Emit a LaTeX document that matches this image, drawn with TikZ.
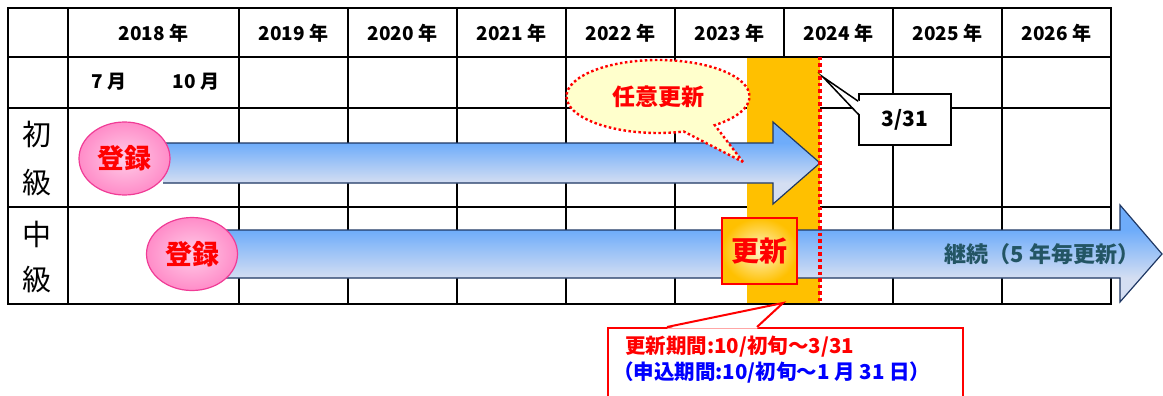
\documentclass[tikz,border=0pt]{standalone}
\usepackage{fontspec}
\setmainfont{Noto Sans CJK JP}
\usetikzlibrary{shapes.geometric,shapes.callouts,calc}
\definecolor{gold}{RGB}{255,192,0}
\definecolor{arrtop}{RGB}{110,172,250}
\definecolor{arrbot}{RGB}{212,222,242}
\definecolor{arredge}{RGB}{31,56,100}
\definecolor{pinkin}{RGB}{255,205,232}
\definecolor{pinkout}{RGB}{255,140,200}
\definecolor{pinkedge}{RGB}{240,60,150}
\definecolor{tealtext}{RGB}{35,85,100}
\definecolor{calloutfill}{RGB}{255,255,204}
\definecolor{glow}{RGB}{255,245,200}
\begin{document}
\begin{tikzpicture}[x=1pt,y=-1pt,
  gridline/.style={line width=1.6pt, black},
  hdr/.style={font=\bfseries\fontsize{19}{21}\selectfont, inner sep=0},
  side/.style={font=\fontsize{29}{30}\selectfont, inner sep=0},
  arrout/.style={draw=arredge, line width=1.2pt},
  reg/.style={ellipse, draw=pinkedge, line width=1.2pt, inner color=pinkin, outer color=pinkout,
    minimum width=91, minimum height=73, inner sep=0, text=red, font=\bfseries\fontsize{27}{28}\selectfont},
  reddots/.style={red, line width=3.5pt, dash pattern=on 3.5pt off 3pt},
  renewbox/.style={draw=red, line width=1.5pt, inner color=glow, outer color=gold,
    minimum width=75, minimum height=66, inner sep=0, text=red, font=\bfseries\fontsize{28}{30}\selectfont},
  note/.style={font=\bfseries\fontsize{20.5}{22}\selectfont, inner sep=0, anchor=west}
]
\useasboundingbox (0,0) rectangle (1163,396);
% table grid
\draw[gridline] (8,8) rectangle (1111,304);
\foreach \yy in {57,108,207} \draw[gridline] (8,\yy) -- (1111,\yy);
\foreach \xx in {68,239,348,457,566,675,784,893,1002} \draw[gridline] (\xx,8) -- (\xx,304);
% header
\foreach \yr/\cx in {2018/153.5,2019/293.5,2020/402.5,2021/511.5,2022/620.5,2023/729.5,2024/838.5,2025/947.5,2026/1056.5}
  \node[hdr] (y\yr) at (\cx,33) {\yr\ 年};
\node[hdr] (m7) at (109,82) {7 月};
\node[hdr] (m10) at (196,82) {10 月};
\node[side] (s1) at (37.5,134) {初};
\node[side] (s2) at (37.5,182.5) {級};
\node[side] (s3) at (37.5,234) {中};
\node[side] (s4) at (37.5,280) {級};
% gold band
\fill[gold] (747,58) rectangle (820,303.2);
% arrow 1
\begin{scope}
  \clip (163,143) -- (773,143) -- (773,122) -- (820,163) -- (773,204) -- (773,183) -- (163,183) -- cycle;
  \fill[arrtop] (163,120) rectangle (822,143.5);
  \shade[top color=arrtop, bottom color=arrbot] (163,143) rectangle (822,183);
  \fill[arrbot] (163,182.5) rectangle (822,206);
\end{scope}
\draw[arrout] (163,143) -- (773,143) -- (773,122) -- (820,163) -- (773,204) -- (773,183) -- (163,183);
% arrow 2
\begin{scope}
  \clip (223,230) -- (1120,230) -- (1120,205) -- (1162,254) -- (1120,302) -- (1120,278) -- (223,278) -- cycle;
  \fill[arrtop] (223,203) rectangle (1164,230.5);
  \shade[top color=arrtop, bottom color=arrbot] (223,230) rectangle (1164,278);
  \fill[arrbot] (223,277.5) rectangle (1164,304);
\end{scope}
\draw[arrout] (223,230) -- (1120,230) -- (1120,205) -- (1162,254) -- (1120,302) -- (1120,278) -- (223,278);
\node[font=\bfseries\fontsize{22}{24}\selectfont, text=tealtext, inner sep=0] (cont) at (1042,254) {継続（5 年毎更新）};
% registration ellipses
\node[reg] (reg1) at (124.5,158.5) {登録};
\node[reg] (reg2) at (192,254) {登録};
% renewal box
\node[renewbox] (renew) at (759.5,251) {更新};
% red dotted deadline
\coordinate (dtop) at (820,57);
\coordinate (dbot) at (820,304);
\draw[reddots] (dtop) -- (dbot);
% optional renewal callout
\coordinate (tipA) at (743,162);
\node[ellipse callout, draw=red, line width=2.4pt, dash pattern=on 2.5pt off 2.5pt, fill=calloutfill,
  minimum width=183, minimum height=73, inner sep=0, callout absolute pointer={(tipA)}, callout pointer arc=22,
  text=red, font=\bfseries\fontsize{23}{24}\selectfont] (opt) at (658,96.5) {任意更新};
% 3/31 callout
\node[draw, line width=1.5pt, fill=white, minimum width=92, minimum height=51, inner sep=0,
  font=\bfseries\fontsize{21}{22}\selectfont] (d331) at (905,119.5) {3/31};
\coordinate (tipB) at (823,77);
\fill[white] ($(d331.north west)+(1.5,8)$) -- (tipB) -- ($(d331.north west)+(1.5,21)$) -- cycle;
\draw[line width=1.5pt, line join=miter] ($(d331.north west)+(0,8)$) -- (tipB) -- ($(d331.north west)+(0,21)$);
% period callout
\node[draw=red, line width=2pt, fill=white, minimum width=355, minimum height=80, inner sep=0, anchor=north west] (per) at (607,327) {};
\coordinate (tipC) at (783,303);
\fill[white] ($(per.north west)+(60,1.5)$) -- (tipC) -- ($(per.north west)+(150,1.5)$) -- cycle;
\draw[red, line width=2pt] ($(per.north west)+(60,0)$) -- (tipC) -- ($(per.north west)+(150,0)$);
\node[note, text=red] (l1) at (625,347) {更新期間:10/初旬～3/31};
\node[note, text=blue] (l2) at (613,373) {（申込期間:10/初旬～1 月 31 日）};
\end{tikzpicture}
\end{document}
